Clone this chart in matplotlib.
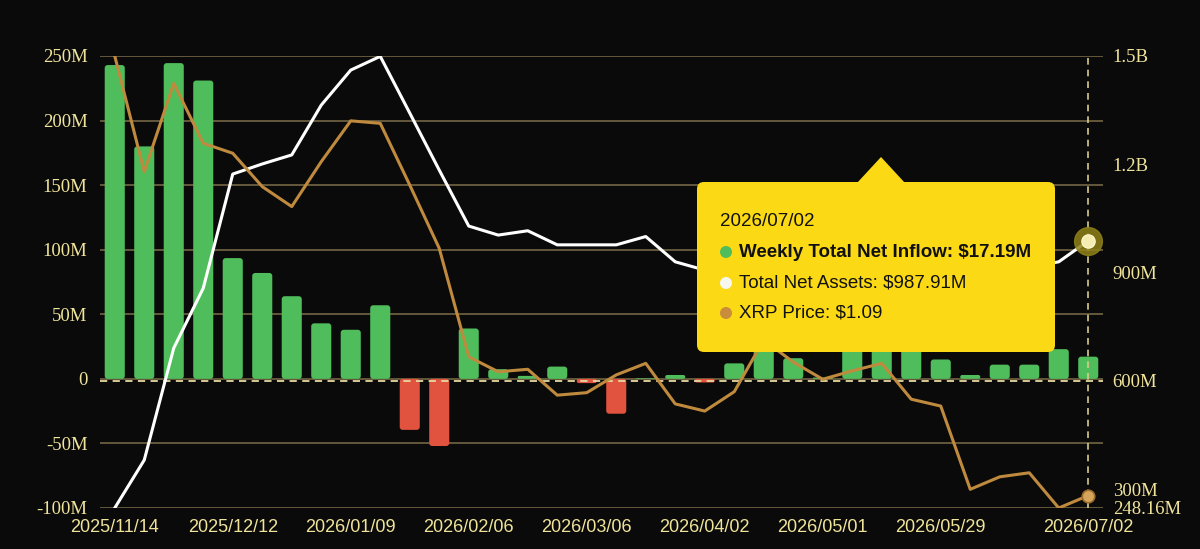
import matplotlib
matplotlib.use('Agg')
import matplotlib.pyplot as plt
from matplotlib.patches import FancyBboxPatch, Polygon, Circle

# weekly data
dates = ['2025/11/14', '2025/11/21', '2025/11/28', '2025/12/05', '2025/12/12', '2025/12/19',
         '2025/12/26', '2026/01/02', '2026/01/09', '2026/01/16', '2026/01/23', '2026/01/30',
         '2026/02/06', '2026/02/13', '2026/02/20', '2026/02/27', '2026/03/06', '2026/03/13',
         '2026/03/20', '2026/03/27', '2026/04/02', '2026/04/10', '2026/04/17', '2026/04/24',
         '2026/05/01', '2026/05/08', '2026/05/15', '2026/05/22', '2026/05/29', '2026/06/05',
         '2026/06/12', '2026/06/18', '2026/06/26', '2026/07/02']
net_inflow = [243, 180, 244.5, 231, 93.5, 82, 64, 43, 38, 57, -39.5, -52, 39, 7.5, 2.3, 9.5,
              -3.3, -27, 0.5, 3, -2.8, 12, 26, 16, 1, 32, 30, 24, 15, 3, 11, 11, 23, 17.19]
net_assets = [248.16, 381, 691, 857, 1173, 1201, 1226, 1364, 1461, 1499, 1342, 1184, 1029, 1004,
              1016, 977, 977, 977, 1000, 930, 907, 895, 905, 920, 915, 925, 935, 920, 905, 900,
              910, 915, 930, 987.91]
xrp_price = [2.50, 2.129, 2.412, 2.22, 2.188, 2.081, 2.017, 2.161, 2.292, 2.284, 2.086, 1.883,
             1.535, 1.487, 1.495, 1.412, 1.42, 1.477, 1.514, 1.384, 1.361, 1.423, 1.589, 1.518,
             1.463, 1.49, 1.514, 1.399, 1.377, 1.11, 1.15, 1.163, 1.05, 1.09]

tick_idx = [0, 4, 8, 12, 16, 20, 24, 28, 33]
left_ticks = [-100, -50, 0, 50, 100, 150, 200, 250]
left_labels = ['-100M', '-50M', '0', '50M', '100M', '150M', '200M', '250M']
right_ticks = [248.16, 300, 600, 900, 1200, 1500]
right_labels = ['248.16M', '300M', '600M', '900M', '1.2B', '1.5B']

tip_date = '2026/07/02'
tip_lines = ['Weekly Total Net Inflow: $17.19M', 'Total Net Assets: $987.91M', 'XRP Price: $1.09']

BG = '#0a0a0a'
GRID = '#6b5f40'
LABEL = '#f0e49a'
GREEN = '#4fbd5b'
RED = '#e2533f'
ORANGE = '#bf8a3e'
YELLOW = '#fbd914'

fig = plt.figure(figsize=(12, 5.49), dpi=100, facecolor=BG)
ax1 = fig.add_axes([100 / 1200, 1 - 508 / 549, 1003 / 1200, 452 / 549])
ax1.set_facecolor(BG)
ax2 = ax1.twinx()
ax3 = ax1.twinx()

x = list(range(len(dates)))

# bars - weekly net inflow (rounded corners)
for yv in left_ticks:
    ax1.axhline(yv, color=GRID, lw=1.3, zorder=0)
ax1.set_xlim(-0.5, 33.5)
ax1.set_ylim(-100, 250)
bars = ax1.bar(x, net_inflow, width=0.68, color='none', zorder=2)
aspect = (1003 / 34) / (452 / 350)   # y data units per x data unit at equal pixels
for rect, v in zip(bars, net_inflow):
    x0, w = rect.get_x(), rect.get_width()
    y0, h = min(0, v), abs(v)
    rs = min(0.1, h / aspect / 2, w / 2)
    p = FancyBboxPatch((x0, y0), w, h, boxstyle='round,pad=0,rounding_size=%f' % rs,
                       mutation_aspect=aspect, facecolor=GREEN if v >= 0 else RED,
                       edgecolor='none', zorder=2)
    ax1.add_patch(p)
    rect.set_visible(False)
ax1.set_yticks(left_ticks)
ax1.set_yticklabels(left_labels, family='Liberation Serif', fontsize=13.5, color=LABEL)
ax1.set_xticks(tick_idx)
ax1.set_xticklabels([dates[i] for i in tick_idx], family='Liberation Sans', fontsize=13, color=LABEL)
ax1.tick_params(axis='both', length=0)
ax1.tick_params(axis='y', pad=9)
ax1.tick_params(axis='x', pad=8)

# total net assets
ax2.plot(x, net_assets, color='white', lw=2.2, zorder=3)
ax2.axhline(600, color='#e6d9a0', lw=1.3, ls=(0, (4, 3)), zorder=2)
ax2.axvline(x[-1], color='#d8cc88', lw=1.2, ls=(0, (4, 3)), zorder=4)
ax2.set_ylim(248.16, 1500)
ax2.set_yticks(right_ticks)
ax2.set_yticklabels(right_labels, family='Liberation Serif', fontsize=13.5, color=LABEL)
ax2.tick_params(axis='y', length=0, pad=7)
ax2.plot(x[-1], net_assets[-1], 'o', ms=20, color='#8f8218', alpha=0.85, zorder=5, clip_on=False)
ax2.plot(x[-1], net_assets[-1], 'o', ms=9.5, mfc='#f4ecb0', mec='#fff6c8', zorder=6, clip_on=False)

# xrp price on hidden axis
ax3.plot(x, xrp_price, color=ORANGE, lw=2.2, zorder=3)
ax3.set_ylim(1.05, 2.5)
ax3.plot(x[-1], xrp_price[-1], 'o', ms=9, mfc='#d6a55c', mec='#9a6c2c', mew=1.2, zorder=6, clip_on=False)
ax3.axis('off')

for a in (ax1, ax2):
    for s in a.spines.values():
        s.set_visible(False)

# tooltip
tr = fig.dpi_scale_trans
H = 5.49
box = FancyBboxPatch((697 / 100, H - 352 / 100), (1055 - 697) / 100, (352 - 182) / 100,
                     boxstyle='round,pad=0,rounding_size=0.07', transform=tr,
                     facecolor=YELLOW, edgecolor='none', zorder=20)
fig.add_artist(box)
tri = Polygon([(857 / 100, H - 183 / 100), (905 / 100, H - 183 / 100), (881 / 100, H - 157 / 100)],
              closed=True, transform=tr, facecolor=YELLOW, edgecolor='none', zorder=20)
fig.add_artist(tri)

fig.text(720 / 1200, 1 - 222 / 549, tip_date, family='Liberation Sans', fontsize=13.5,
         color='#111111', va='center', ha='left', zorder=21)
dot_colors = [GREEN, '#f7f7f0', '#c98d3c']
line_y = [252, 283, 313]
for i, txt in enumerate(tip_lines):
    fig.add_artist(Circle((726 / 100, H - line_y[i] / 100), 0.06, transform=tr,
                          facecolor=dot_colors[i], edgecolor='none', zorder=21))
    fig.text(739 / 1200, 1 - line_y[i] / 549, txt, family='Liberation Sans', fontsize=13.5,
             color='#111111', va='center', ha='left', zorder=21,
             fontweight='bold' if i == 0 else 'normal')

fig.savefig('out.png', dpi=100, facecolor=BG)
